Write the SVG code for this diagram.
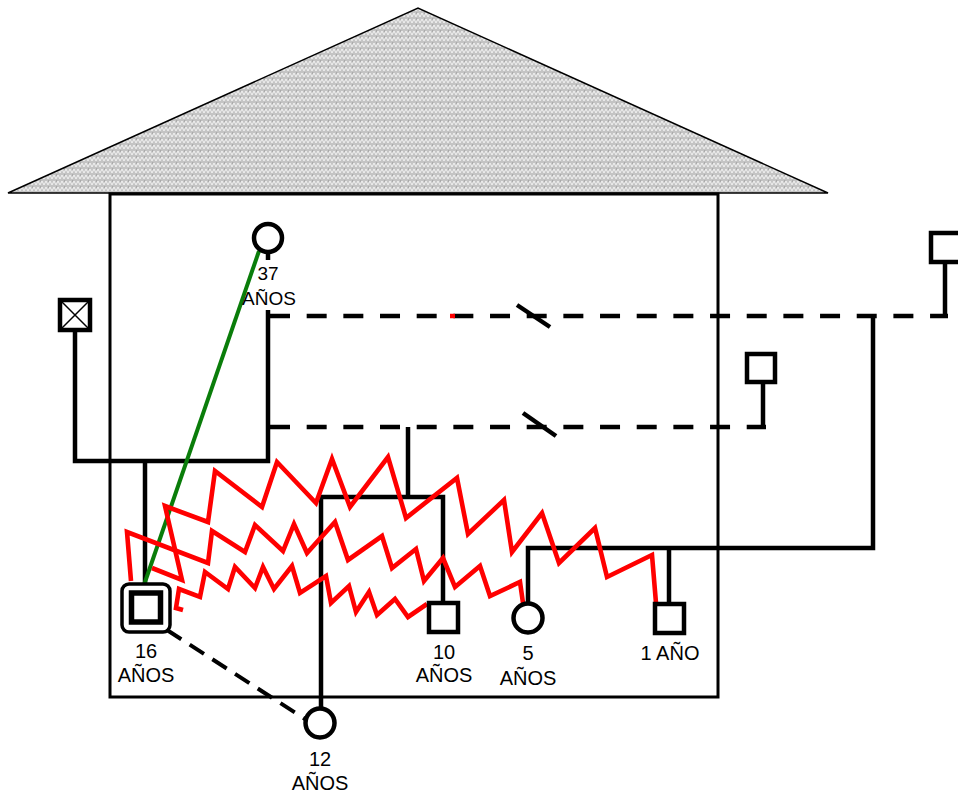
<svg xmlns="http://www.w3.org/2000/svg" width="958" height="796" viewBox="0 0 958 796">
<defs>
<pattern id="weave" width="8" height="6" patternUnits="userSpaceOnUse">
<rect width="8" height="6" fill="#c4c4c4"/>
<polyline points="0,5 2,1 4,5 6,1 8,5" fill="none" stroke="#f2f2f2" stroke-width="1"/>
<polyline points="0,2 1,0" fill="none" stroke="#9a9a9a" stroke-width="0.8"/>
</pattern>
</defs>
<style>
.ln{fill:none;stroke:#000;stroke-width:4.5;stroke-linecap:butt}
.dash{fill:none;stroke:#000;stroke-width:4.5;stroke-dasharray:20 16.67}
.red{fill:none;stroke:#ff0000;stroke-width:4.6;stroke-linejoin:miter}
.node{fill:#fff;stroke:#000;stroke-width:4.5}
.lbl{font-family:"Liberation Sans",Arial,sans-serif;font-size:20px;fill:#000;text-anchor:middle}
</style>
<rect width="958" height="796" fill="#fff"/>
<g id="house">
<polygon points="8,193 418,8 828,193" fill="url(#weave)" stroke="#000" stroke-width="1.5"/>
<rect x="110" y="194" width="608" height="503" fill="none" stroke="#000" stroke-width="3"/>
</g>
<g id="connectors">
<polyline class="ln" points="75,332 75,461 268,461 268,310"/>
<line class="ln" x1="268" y1="252" x2="268" y2="260"/>
<line class="ln" x1="145" y1="461" x2="145" y2="584"/>
<line class="dash" x1="270" y1="316" x2="948" y2="316"/>
<line class="dash" x1="270" y1="427" x2="766" y2="427"/>
<line x1="450" y1="316" x2="455" y2="316" stroke="#ff0000" stroke-width="4.5"/>
<line class="ln" x1="517" y1="305" x2="550" y2="327" stroke-width="4"/>
<line class="ln" x1="523" y1="413" x2="556" y2="436" stroke-width="4"/>
<polyline class="ln" points="945,262 945,318"/>
<polyline class="ln" points="763,382 763,429"/>
<line class="ln" x1="408" y1="427" x2="408" y2="497"/>
<polyline class="ln" points="321,708 321,497 443,497 443,603"/>
<polyline class="ln" points="873,316 873,548 528,548 528,603"/>
<line class="ln" x1="669" y1="548" x2="669" y2="604"/>
<line x1="259" y1="251" x2="144" y2="585" stroke="#0a7d0a" stroke-width="4"/>
<line x1="167" y1="630" x2="305" y2="719" stroke="#000" stroke-width="4" stroke-dasharray="17 10"/>
<polyline class="red" points="152,568 182,580 165,506 208,522 215,471 262,507 277,462 316,503 332,459 350,507 388,457 406,518 457,478 468,534 504,500 512,552 542,513 559,563 595,528 607,577 652,555 656,603"/>
<polyline class="red" points="131,581 127,532 208,563 212,531 245,552 255,525 283,551 294,524 307,553 335,522 348,560 382,536 392,568 416,549 424,581 443,558 455,587 480,566 490,596 520,582 523,603"/>
<polyline class="red" points="183,610 176,608 179,589 200,597 205,572 228,589 235,567 255,588 263,567 274,589 292,566 300,593 326,576 331,603 349,586 356,612 369,592 377,615 395,599 408,617 427,604"/>
</g>
<g id="n-dead-male">
<rect x="60" y="300" width="30" height="30" class="node" stroke-width="4"/>
<path d="M62,302 L88,328 M88,302 L62,328" stroke="#000" stroke-width="1.5"/>
</g>
<g id="n-mother-37">
<circle cx="268" cy="238" r="14" class="node"/>
<text class="lbl" x="268" y="280" style="font-size:19px">37</text>
<text class="lbl" x="269" y="305" style="font-size:19px">AÑOS</text>
</g>
<g id="n-ex-partner-1">
<rect x="931" y="233" width="32" height="29" class="node"/>
</g>
<g id="n-ex-partner-2">
<rect x="747" y="354" width="28" height="28" class="node"/>
</g>
<g id="n-index-16">
<rect x="122" y="584" width="48" height="48" rx="7" fill="#fff" stroke="#000" stroke-width="3.5"/>
<rect x="131.5" y="593" width="29" height="29" fill="#fff" stroke="#000" stroke-width="5.5"/>
<text class="lbl" x="146" y="658">16</text>
<text class="lbl" x="146" y="682">AÑOS</text>
</g>
<g id="n-girl-12">
<circle cx="320" cy="723" r="14.5" class="node"/>
<text class="lbl" x="320" y="766">12</text>
<text class="lbl" x="320" y="790">AÑOS</text>
</g>
<g id="n-boy-10">
<rect x="429" y="603" width="29" height="29" class="node"/>
<text class="lbl" x="444" y="659">10</text>
<text class="lbl" x="444" y="682">AÑOS</text>
</g>
<g id="n-girl-5">
<circle cx="528" cy="618" r="14.5" class="node"/>
<text class="lbl" x="528" y="660">5</text>
<text class="lbl" x="528" y="685">AÑOS</text>
</g>
<g id="n-boy-1">
<rect x="655" y="604" width="29" height="29" class="node"/>
<text class="lbl" x="670" y="660">1 AÑO</text>
</g>
</svg>
